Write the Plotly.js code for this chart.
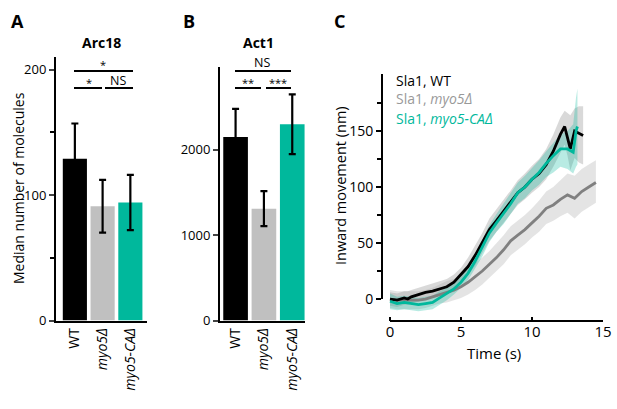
<!DOCTYPE html>
<html>
<head>
<meta charset="utf-8">
<script src="https://cdn.plot.ly/plotly-3.0.1.min.js"></script>
<style>html,body{margin:0;padding:0;background:#fff;}#chart{width:617px;height:409px;}</style>
</head>
<body>
<div id="chart"></div>
<script>
// ---------- DATA ----------
const strains = ["WT", "myo5Δ", "myo5-CAΔ"];
const strainLabels = ["WT", "<i>myo5Δ</i>", "<i>myo5-CAΔ</i>"];
const arc18 = [129, 91, 94];
const arc18Err = [28, 21, 22];
const act1 = [2150, 1310, 2300];
const act1Err = [330, 205, 350];

const tWT = [0,0.5,1,1.25,1.5,2,2.5,3,3.5,4,4.5,5,5.5,6,6.5,7,7.5,8,8.5,9,9.5,10,10.5,11,11.5,12,12.3,12.5,12.7,13,13.3,13.6];
const yWT = [0,-1,1,0,2,4,6,7,9,11,15,22,29,39,50,62,70,78,86,95,100,107,112,120,132,147,154,145,134,150,148,146];
const yWTUp = [6,5,7,7,8,10,12,14,16,18,22,28,37,48,59,72,80,88,97,106,112,119,125,134,147,162,168,166,164,170,172,172];
const yWTLo = [-6,-7,-5,-5,-4,-2,0,1,3,5,8,14,21,30,41,52,60,68,75,84,89,95,100,107,118,130,138,128,115,126,122,120];

const tCA = [0,0.5,1,1.5,2,2.5,3,3.5,4,4.5,5,5.5,6,6.5,7,7.5,8,8.5,9,9.5,10,10.5,11,11.5,12,12.5,12.9,13.1,13.2];
const yCA = [-2,-4,-3,-4,-5,-4,-3,1,5,9,15,23,34,46,59,68,76,85,95,100,107,113,121,128,134,134,131,150,154];
const yCAUp = [5,2,3,2,1,2,3,7,10,14,20,29,40,53,66,76,85,94,104,110,117,124,132,140,147,150,156,180,188];
const yCALo = [-9,-10,-9,-10,-11,-10,-9,-5,-1,4,10,17,27,38,51,60,67,76,85,90,97,102,109,113,118,116,112,118,120];

const tM5 = [0,0.5,1,1.5,2,2.5,3,3.5,4,4.5,5,5.5,6,6.5,7,7.5,8,8.5,9,9.5,10,10.5,11,11.5,12,12.5,13,13.5,14,14.5];
const yM5 = [0,-1,-1,-1,-1,0,2,4,6,8,11,15,20,25,31,37,44,52,57,62,68,74,81,84,89,93,90,96,100,104];
const yM5Up = [8,7,7,7,7,8,10,13,16,18,22,27,32,37,43,50,57,65,70,75,81,88,96,100,106,112,110,116,120,124];
const yM5Lo = [-8,-9,-9,-9,-9,-8,-6,-4,-3,-1,1,4,8,13,19,25,31,39,44,49,55,60,67,70,74,77,72,78,82,86];

// ---------- STYLE ----------
const W = 617, H = 409;
const FONT = "Open Sans, Arial, sans-serif";
const TEAL = "#00b89c";
const px = v => v / W;
const py = v => 1 - v / H;
const xd = (a, b) => [px(a), px(b)];
const yd = (top, bottom) => [py(bottom), py(top)];

const traces = [
  {type:"bar", x: strains, y: arc18, xaxis:"x", yaxis:"y",
   marker:{color:["#000000","#c0c0c0",TEAL]},
   error_y:{type:"data", array: arc18Err, color:"#000", thickness:2.2, width:3.5},
   hoverinfo:"none"},
  {type:"bar", x: strains, y: act1, xaxis:"x2", yaxis:"y2",
   marker:{color:["#000000","#c0c0c0",TEAL]},
   error_y:{type:"data", array: act1Err, color:"#000", thickness:2.2, width:3.5},
   hoverinfo:"none"},
  // bands
  {x:tM5, y:yM5Lo, xaxis:"x3", yaxis:"y3", mode:"lines", line:{width:0}, hoverinfo:"none"},
  {x:tM5, y:yM5Up, xaxis:"x3", yaxis:"y3", mode:"lines", line:{width:0}, fill:"tonexty", fillcolor:"rgba(195,195,195,0.45)", hoverinfo:"none"},
  {x:tWT, y:yWTLo, xaxis:"x3", yaxis:"y3", mode:"lines", line:{width:0}, hoverinfo:"none"},
  {x:tWT, y:yWTUp, xaxis:"x3", yaxis:"y3", mode:"lines", line:{width:0}, fill:"tonexty", fillcolor:"rgba(160,160,160,0.40)", hoverinfo:"none"},
  {x:tCA, y:yCALo, xaxis:"x3", yaxis:"y3", mode:"lines", line:{width:0}, hoverinfo:"none"},
  {x:tCA, y:yCAUp, xaxis:"x3", yaxis:"y3", mode:"lines", line:{width:0}, fill:"tonexty", fillcolor:"rgba(0,184,156,0.28)", hoverinfo:"none"},
  // lines
  {x:tM5, y:yM5, xaxis:"x3", yaxis:"y3", mode:"lines", line:{color:"#808080", width:2.8}, hoverinfo:"none"},
  {x:tWT, y:yWT, xaxis:"x3", yaxis:"y3", mode:"lines", line:{color:"#000", width:2.8}, hoverinfo:"none"},
  {x:tCA, y:yCA, xaxis:"x3", yaxis:"y3", mode:"lines", line:{color:TEAL, width:2.8}, hoverinfo:"none"}
];

const tickFont = {family: FONT, size: 13, color: "#000"};
const catAxis = (dom, rng) => ({
  domain: dom, range: rng, type: "category", showline: true, linewidth: 2, linecolor: "#000",
  ticks: "", tickangle: -90, tickmode: "array", tickvals: strains, ticktext: strainLabels,
  tickfont: {family: FONT, size: 14, color:"#000"}, showgrid: false, zeroline: false, fixedrange: true
});

const layout = {
  width: W, height: H, margin: {l:0, r:0, t:0, b:0},
  paper_bgcolor: "#fff", plot_bgcolor: "rgba(0,0,0,0)",
  showlegend: false, bargap: 0.13, font: {family: FONT, color: "#000"},
  xaxis: catAxis(xd(56,147), [-0.68, 2.6]),
  yaxis: {domain: yd(57,320.5), range: [0, 210], showline: true, linewidth: 2, linecolor:"#000",
          ticks:"outside", ticklen:5, tickwidth:2, tickvals:[0,100,200], tickfont: tickFont,
          minor:{tickmode:"array", tickvals:[50,150], ticks:"outside", ticklen:4, tickwidth:2, tickcolor:"#000"},
          showgrid:false, zeroline:false, anchor:"x"},
  xaxis2: Object.assign(catAxis(xd(220,305), [-0.55, 2.45]), {anchor:"y2"}),
  yaxis2: {domain: yd(67,320.5), range: [0, 2970], showline: true, linewidth: 2, linecolor:"#000",
          ticks:"outside", ticklen:5, tickwidth:2, tickvals:[0,1000,2000], tickfont: tickFont,
          showgrid:false, zeroline:false, anchor:"x2"},
  xaxis3: {domain: xd(382,603), range: [-0.563, 15], anchor:"y3", showline:false,
          ticks:"inside", ticklen:4, tickwidth:2, tickcolor:"#000", tickvals:[0,5,10,15],
          tickfont:{family:FONT, size:15, color:"#000"}, showgrid:false, zeroline:false},
  yaxis3: {domain: yd(74,321), range: [-19.6, 200.9], anchor:"x3", showline:false,
          ticks:"outside", ticklen:5, tickwidth:2, tickcolor:"#000", tickvals:[0,50,100,150],
          tickfont:{family:FONT, size:14, color:"#000"},
          minor:{tickmode:"array", tickvals:[25,75,125,175], ticks:"outside", ticklen:4, tickwidth:2, tickcolor:"#000"},
          showgrid:false, zeroline:false},
  shapes: [
    // panel C axis lines
    {type:"line", xref:"x3", yref:"paper", x0:0, x1:15, y0:py(321), y1:py(321), line:{color:"#000", width:2}},
    {type:"line", xref:"paper", yref:"y3", x0:px(382), x1:px(382), y0:0, y1:200.9, line:{color:"#000", width:2}},
    // significance bars A
    {type:"line", xref:"paper", yref:"paper", x0:px(74), x1:px(133), y0:py(71), y1:py(71), line:{color:"#000", width:2}},
    {type:"line", xref:"paper", yref:"paper", x0:px(74), x1:px(102), y0:py(88), y1:py(88), line:{color:"#000", width:2}},
    {type:"line", xref:"paper", yref:"paper", x0:px(105), x1:px(133), y0:py(88), y1:py(88), line:{color:"#000", width:2}},
    // significance bars B
    {type:"line", xref:"paper", yref:"paper", x0:px(235), x1:px(291), y0:py(71), y1:py(71), line:{color:"#000", width:2}},
    {type:"line", xref:"paper", yref:"paper", x0:px(235), x1:px(261), y0:py(88), y1:py(88), line:{color:"#000", width:2}},
    {type:"line", xref:"paper", yref:"paper", x0:px(266), x1:px(291), y0:py(88), y1:py(88), line:{color:"#000", width:2}}
  ],
  annotations: []
};

function ann(text, x, y, opts) {
  layout.annotations.push(Object.assign({
    text: text, xref:"paper", yref:"paper", x: px(x), y: py(y), showarrow:false,
    xanchor:"center", yanchor:"middle", font:{family:FONT, size:13, color:"#000"}
  }, opts || {}));
}
// panel letters and titles
ann("<b>A</b>", 17, 21, {font:{family:FONT, size:18, color:"#000"}});
ann("<b>B</b>", 189, 21, {font:{family:FONT, size:18, color:"#000"}});
ann("<b>C</b>", 339, 21, {font:{family:FONT, size:18, color:"#000"}});
ann("<b>Arc18</b>", 101, 42, {font:{family:FONT, size:14, color:"#000"}});
ann("<b>Act1</b>", 258.5, 42, {font:{family:FONT, size:14, color:"#000"}});
// axis titles
ann("Median number of molecules", 18, 188, {textangle:-90, font:{family:FONT, size:14, color:"#000"}});
ann("Inward movement (nm)", 340, 186, {textangle:-90, font:{family:FONT, size:14.5, color:"#000"}});
ann("Time (s)", 494, 353, {font:{family:FONT, size:15, color:"#000"}});
// significance labels
ann("*", 103, 64, {font:{family:FONT, size:11, color:"#000"}});
ann("*", 89, 82, {font:{family:FONT, size:11, color:"#000"}});
ann("NS", 118, 80, {font:{family:FONT, size:12.5, color:"#000"}});
ann("NS", 262, 63, {font:{family:FONT, size:12.5, color:"#000"}});
ann("**", 248, 82, {font:{family:FONT, size:11, color:"#000"}});
ann("***", 278, 82, {font:{family:FONT, size:11, color:"#000"}});
// legend C
ann("Sla1, WT", 394, 80, {xanchor:"left", font:{family:FONT, size:14, color:"#000"}});
ann("Sla1, <i>myo5Δ</i>", 394, 99, {xanchor:"left", font:{family:FONT, size:14, color:"#999999"}});
ann("Sla1, <i>myo5-CAΔ</i>", 394, 118, {xanchor:"left", font:{family:FONT, size:14, color:TEAL}});

Plotly.newPlot("chart", traces, layout, {staticPlot:true, displayModeBar:false});
</script>
</body>
</html>
